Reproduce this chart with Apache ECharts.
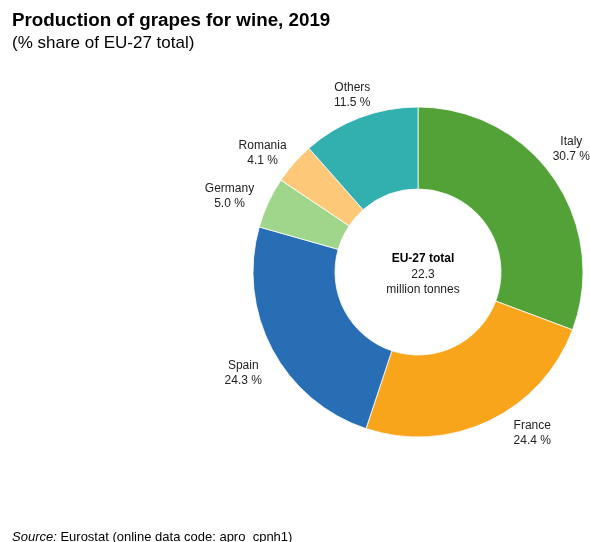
<!DOCTYPE html>
<html>
<head>
<meta charset="utf-8">
<script src="https://cdn.jsdelivr.net/npm/echarts@6/dist/echarts.min.js"></script>
<style>
  html, body { margin: 0; padding: 0; background: #fff; }
  #chart { width: 590px; height: 542px; }
</style>
</head>
<body>
<div id="chart"></div>
<script>
// Share of EU-27 wine grape production, 2019 (%)
const countries = ['Italy', 'France', 'Spain', 'Germany', 'Romania', 'Others'];
const shares = [30.7, 24.4, 24.3, 5.0, 4.1, 11.5];
const sliceColors = ['#52a238', '#f9a51c', '#286eb4', '#a0d68b', '#fdc878', '#32afaf'];
const totalLabel = ['EU-27 total', '22.3', 'million tonnes'];

const FONT = '"Liberation Sans", Arial, Helvetica, sans-serif';
const CENTER = [418, 272];

// small hand nudges so each label sits clear of its slice
const labelNudge = [[-11, -9], [28, -19], [2, 8], [-7, 8], [-5, 13], [5, 10]];

const sliceData = countries.map((name, i) => ({
  name: name,
  value: shares[i],
  itemStyle: { color: sliceColors[i] }
}));

const chart = echarts.init(document.getElementById('chart'), null, { renderer: 'canvas' });

chart.setOption({
  animation: false,
  backgroundColor: '#ffffff',
  title: [
    {
      text: 'Production of grapes for wine, 2019',
      left: 12, top: 11, padding: 0,
      textStyle: { fontFamily: FONT, fontSize: 18.8, fontWeight: 'bold', color: '#000' }
    },
    {
      text: '(% share of EU-27 total)',
      left: 12, top: 35, padding: 0,
      textStyle: { fontFamily: FONT, fontSize: 17, fontWeight: 'normal', color: '#000' }
    },
    {
      text: '{b|' + totalLabel[0] + '}\n' + totalLabel[1] + '\n' + totalLabel[2],
      left: CENTER[0], top: CENTER[1] - 26,
      textAlign: 'center',
      textStyle: {
        fontFamily: FONT, fontSize: 12, fontWeight: 'normal', color: '#222', lineHeight: 15.5,
        rich: { b: { fontFamily: FONT, fontSize: 12, fontWeight: 'bold', color: '#000', lineHeight: 15.5 } }
      }
    }
  ],
  series: [
    {
      // the doughnut itself
      type: 'pie',
      center: CENTER,
      radius: [83, 165],
      startAngle: 90,
      clockwise: true,
      avoidLabelOverlap: false,
      silent: true,
      label: { show: false },
      labelLine: { show: false },
      itemStyle: { borderColor: '#ffffff', borderWidth: 0.8 },
      data: sliceData
    },
    {
      // transparent outer ring that carries the category labels at mid-angle
      type: 'pie',
      center: CENTER,
      radius: [165, 229],
      startAngle: 90,
      clockwise: true,
      silent: true,
      avoidLabelOverlap: false,
      itemStyle: { color: 'rgba(0,0,0,0)' },
      emphasis: { disabled: true },
      label: {
        show: true,
        position: 'inside',
        fontFamily: FONT,
        fontSize: 12,
        lineHeight: 15,
        color: '#222',
        align: 'center',
        formatter: p => p.name + '\n' + p.value.toFixed(1) + ' %'
      },
      labelLayout: p => ({ dx: labelNudge[p.dataIndex][0], dy: labelNudge[p.dataIndex][1] }),
      labelLine: { show: false },
      data: countries.map((name, i) => ({ name: name, value: shares[i] }))
    }
  ],
  graphic: [
    {
      type: 'text',
      left: 12,
      top: 531,
      style: {
        text: '{i|Source:} Eurostat (online data code: apro_cpnh1)',
        font: '13px ' + FONT,
        fill: '#000',
        rich: { i: { fontStyle: 'italic', fontFamily: FONT, fontSize: 13, fill: '#000' } }
      }
    }
  ]
});
</script>
</body>
</html>
